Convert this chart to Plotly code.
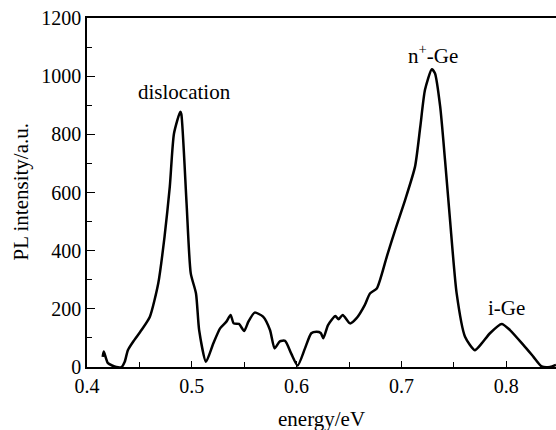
import plotly.graph_objects as go

energy = [0.415, 0.416, 0.420, 0.428, 0.433, 0.436, 0.439, 0.444, 0.452, 0.460,
          0.468, 0.474, 0.479, 0.483, 0.489, 0.490, 0.495, 0.499, 0.504, 0.507,
          0.5135, 0.5205, 0.527, 0.533, 0.537, 0.540, 0.545, 0.550, 0.554, 0.560,
          0.568, 0.5746, 0.579, 0.584, 0.589, 0.595, 0.601, 0.608, 0.614, 0.619,
          0.623, 0.6255, 0.630, 0.637, 0.640, 0.644, 0.651, 0.657, 0.665, 0.670,
          0.6765, 0.686, 0.694, 0.7035, 0.713, 0.718, 0.7225, 0.729, 0.732, 0.737,
          0.7416, 0.7464, 0.7527, 0.7607, 0.770, 0.7766, 0.7845, 0.7957, 0.8036, 0.8163,
          0.826, 0.8338, 0.8418, 0.8475]
intensity = [35, 53, 13, 0, 0, 18, 58, 87, 127, 173,
             288, 448, 620, 803, 878, 870, 563, 322, 253, 127,
             18, 81, 133, 156, 179, 150, 148, 124, 156, 187,
             173, 127, 64, 88, 90, 45, 5, 64, 116, 121,
             117, 99, 144, 175, 164, 179, 150, 167, 213, 253,
             270, 379, 471, 574, 689, 826, 953, 1024, 1010, 895,
             712, 505, 253, 104, 58, 81, 116, 148, 127, 76,
             35, 2, 0, 7]

peak_labels = ["dislocation", "n<sup>+</sup>-Ge", "i-Ge"]
label_x = [0.4935, 0.7305, 0.8005]
label_y = [947, 1073, 203]

x_title = "energy/eV"
y_title = "PL intensity/a.u."

FONT = "Liberation Serif"

fig = go.Figure()
fig.add_trace(go.Scatter(
    x=energy, y=intensity, mode="lines",
    line=dict(color="black", width=2.5, shape="spline", smoothing=0.6),
    showlegend=False, hoverinfo="skip"))

for t, xx, yy in zip(peak_labels, label_x, label_y):
    fig.add_annotation(x=xx, y=yy, text=t, showarrow=False,
                       font=dict(family=FONT, size=21, color="black"))

fig.add_annotation(xref="paper", yref="paper", x=0.5, y=0, yshift=-52,
                   text=x_title, showarrow=False, yanchor="middle",
                   font=dict(family=FONT, size=21, color="black"))
fig.add_annotation(xref="paper", yref="paper", x=0, y=0.5, xshift=-67,
                   text=y_title, showarrow=False, textangle=-90,
                   xanchor="center", yanchor="middle",
                   font=dict(family=FONT, size=21, color="black"))

fig.update_layout(
    width=556, height=430,
    margin=dict(l=87, r=0, t=18, b=63),
    paper_bgcolor="white", plot_bgcolor="white",
    font=dict(family=FONT, size=20, color="black"),
    xaxis=dict(range=[0.4, 0.8475], dtick=0.1, tick0=0.4, tickformat=".1f",
               showgrid=False, zeroline=False, automargin=False,
               showline=True, linecolor="black", linewidth=1.5, mirror=True,
               ticks="inside", ticklen=6, tickwidth=1.2, tickcolor="black",
               minor=dict(dtick=0.05, ticks="inside", ticklen=5, tickwidth=1.2, tickcolor="black"),
               tickfont=dict(family=FONT, size=20)),
    yaxis=dict(range=[0, 1200], dtick=200, showgrid=False, zeroline=False, automargin=False,
               showline=True, linecolor="black", linewidth=1.5, mirror=False,
               ticks="inside", ticklen=8, tickwidth=1.2, tickcolor="black",
               minor=dict(dtick=100, ticks="inside", ticklen=5, tickwidth=1.2, tickcolor="black"),
               tickfont=dict(family=FONT, size=20)),
)

fig.write_html("out.html", config={"displayModeBar": False},
               post_script="document.body.style.margin='0';")
